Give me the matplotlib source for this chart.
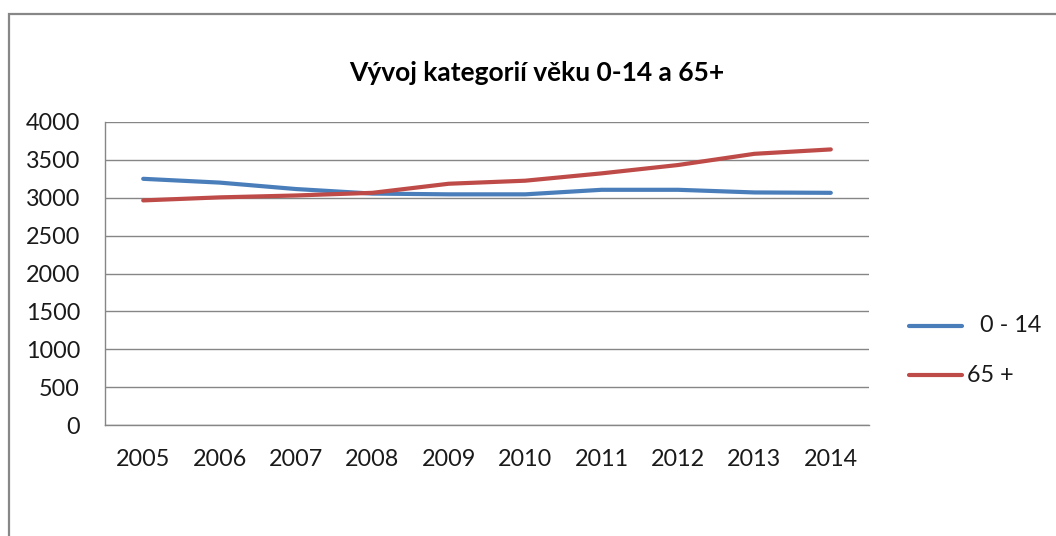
import matplotlib
matplotlib.use("Agg")
import matplotlib.pyplot as plt
from matplotlib.patches import Rectangle
from matplotlib.lines import Line2D

years = ["2005", "2006", "2007", "2008", "2009", "2010", "2011", "2012", "2013", "2014"]
kids_0_14 = [3250, 3200, 3115, 3055, 3045, 3045, 3105, 3105, 3070, 3065]
seniors_65 = [2965, 3005, 3030, 3065, 3185, 3225, 3322, 3432, 3580, 3638]
y_ticks = [0, 500, 1000, 1500, 2000, 2500, 3000, 3500, 4000]

BLUE = "#4A7EBB"
RED = "#BE4B48"
GRID = "#868686"

plt.rcParams["font.family"] = ["Lato", "DejaVu Sans"]

W, H = 1056, 536
fig = plt.figure(figsize=(W / 100, H / 100), dpi=100)
fig.patch.set_facecolor("white")

# outer chart frame (cropped on right and bottom)
fig.patches.append(Rectangle((8.5 / W, -0.2), 1.2, (H - 13.5) / H + 0.2,
                             transform=fig.transFigure, fill=False,
                             edgecolor="#878787", linewidth=1.6))

ax = fig.add_axes([105 / W, (H - 425) / H, (869 - 105) / W, (425 - 122) / H])
x = range(len(years))
ax.plot(x, kids_0_14, color=BLUE, lw=3.0, solid_capstyle="round", solid_joinstyle="round")
ax.plot(x, seniors_65, color=RED, lw=3.0, solid_capstyle="round", solid_joinstyle="round")

ax.set_xlim(-0.5, len(years) - 0.5)
ax.set_ylim(0, 4000)
ax.set_yticks(y_ticks)
ax.set_xticks(list(x))
ax.set_xticklabels(years)
ax.yaxis.grid(True, color=GRID, lw=1.0)
ax.set_axisbelow(True)
ax.tick_params(axis="both", length=0, labelsize=16.8, colors="#000000")
ax.tick_params(axis="y", pad=18)
ax.tick_params(axis="x", pad=17)
for lab in ax.get_xticklabels() + ax.get_yticklabels():
    lab.set_color("#1a1a1a")
for side in ["top", "right"]:
    ax.spines[side].set_visible(False)
for side in ["left", "bottom"]:
    ax.spines[side].set_color(GRID)
    ax.spines[side].set_linewidth(1.0)

fig.text(537 / W, (H - 73) / H, "Vývoj kategorií věku 0-14 a 65+",
         ha="center", va="center", fontsize=19, fontweight="bold", color="#000000")

# legend
fig.lines.append(Line2D([909 / W, 962 / W], [(H - 326) / H] * 2, transform=fig.transFigure,
                        color=BLUE, lw=3.0, solid_capstyle="round"))
fig.lines.append(Line2D([909 / W, 962 / W], [(H - 375) / H] * 2, transform=fig.transFigure,
                        color=RED, lw=3.0, solid_capstyle="round"))
fig.text(980 / W, (H - 326) / H, "0 - 14", ha="left", va="center", fontsize=16.8, color="#1a1a1a")
fig.text(967 / W, (H - 375) / H, "65 +", ha="left", va="center", fontsize=16.8, color="#1a1a1a")

fig.savefig("out.png", dpi=100)
